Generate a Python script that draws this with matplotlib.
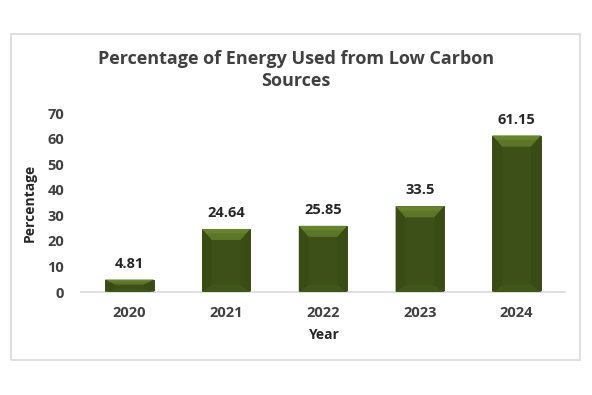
import numpy as np
import matplotlib.pyplot as plt
from matplotlib.patches import Polygon, Rectangle

years = ["2020", "2021", "2022", "2023", "2024"]
values = [4.81, 24.64, 25.85, 33.5, 61.15]
labels = ["4.81", "24.64", "25.85", "33.5", "61.15"]

plt.rcParams['font.family'] = ['Open Sans', 'DejaVu Sans']

fig = plt.figure(figsize=(5.92, 3.95), dpi=100)
fig.patches.append(Rectangle((11 / 592, 1 - 360 / 395), 569 / 592, 326 / 395,
                             transform=fig.transFigure, fill=False,
                             edgecolor='#d9d9d9', linewidth=1.2))

ax = fig.add_axes([81 / 592, 1 - 292 / 395, 484 / 592, 179 / 395])
x = np.arange(len(years))
w = 0.5
bars = ax.bar(x, values, width=w, color='#3d5018', edgecolor='#2f3d12', linewidth=0.6, zorder=2)

# bevel shading: lighter top facet, faint bottom and side facets
px_per_unit = 179 / 70
for b, v, lab in zip(bars, values, labels):
    x0 = b.get_x()
    x1 = x0 + b.get_width()
    dx = 0.1
    dy = min(11 / px_per_unit, v / 2.5)
    db = min(7 / px_per_unit, v / 4)
    top = Polygon([(x0, v), (x1, v), (x1 - dx, v - dy), (x0 + dx, v - dy)],
                  closed=True, facecolor='#5b7628', edgecolor='none', zorder=3)
    top2 = Polygon([(x0, v), (x1, v), (x1 - dx * 0.4, v - dy * 0.4), (x0 + dx * 0.4, v - dy * 0.4)],
                   closed=True, facecolor='#66832e', edgecolor='none', zorder=3)
    bot = Polygon([(x0, 0), (x1, 0), (x1 - dx, db), (x0 + dx, db)],
                  closed=True, facecolor='#41561b', edgecolor='none', zorder=3)
    left = Polygon([(x0, 0), (x0 + dx, db), (x0 + dx, v - dy), (x0, v)],
                   closed=True, facecolor='#3a4c16', edgecolor='none', zorder=3)
    right = Polygon([(x1, 0), (x1 - dx, db), (x1 - dx, v - dy), (x1, v)],
                    closed=True, facecolor='#3a4c16', edgecolor='none', zorder=3)
    for p in (top, top2, bot, left, right):
        ax.add_patch(p)
    ax.text(b.get_x() + b.get_width() / 2, v + 3.5, lab,
            ha='center', va='bottom', fontsize=10.5, fontweight='bold', color='#262626')

ax.set_xlim(-0.5, 4.5)
ax.set_ylim(0, 70)
ax.set_yticks(range(0, 80, 10))
ax.set_xticks(x)
ax.set_xticklabels(years)
for s in ['top', 'right', 'left']:
    ax.spines[s].set_visible(False)
ax.spines['bottom'].set_color('#d9d9d9')
ax.spines['bottom'].set_linewidth(1.2)
ax.tick_params(length=0, labelsize=10.5, labelcolor='#404040', pad=12)
ax.tick_params(axis='x', pad=10)
for t in ax.get_xticklabels() + ax.get_yticklabels():
    t.set_fontweight('bold')

ax.set_xlabel('Year', fontsize=10, fontweight='bold', color='#262626', labelpad=6)
ax.set_ylabel('Percentage', fontsize=10, fontweight='bold', color='#262626', labelpad=8)

fig.text(0.5, 1 - 70 / 395, 'Percentage of Energy Used from Low Carbon\nSources',
         ha='center', va='center', fontsize=13, fontweight='bold', color='#404040',
         linespacing=1.3)

fig.savefig('out.png', dpi=100)
